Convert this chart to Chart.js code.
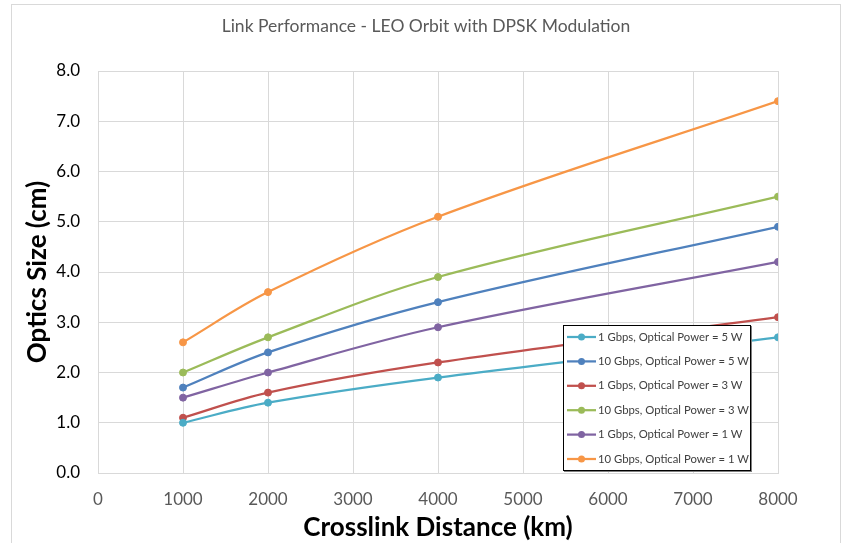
<!DOCTYPE html>
<html>
<head>
<meta charset="utf-8">
<script src="https://cdn.jsdelivr.net/npm/chart.js@4/dist/chart.umd.min.js"></script>
<style>
html,body{margin:0;padding:0;background:#fff;}
#wrap{position:relative;width:842px;height:543px;}
</style>
</head>
<body>
<div id="wrap"><canvas id="c" width="842" height="543"></canvas></div>
<script>
const chartTitle = "Link Performance - LEO Orbit with DPSK Modulation";
const xTitle = "Crosslink Distance (km)";
const yTitle = "Optics Size (cm)";
const distances = [1000, 2000, 4000, 8000];
const seriesLabels = [
  "1 Gbps, Optical Power = 5 W",
  "10 Gbps, Optical Power = 5 W",
  "1 Gbps, Optical Power = 3 W",
  "10 Gbps, Optical Power = 3 W",
  "1 Gbps, Optical Power = 1 W",
  "10 Gbps, Optical Power = 1 W"
];
const gbps1_5W  = [1.0, 1.4, 1.9, 2.7];
const gbps10_5W = [1.7, 2.4, 3.4, 4.9];
const gbps1_3W  = [1.1, 1.6, 2.2, 3.1];
const gbps10_3W = [2.0, 2.7, 3.9, 5.5];
const gbps1_1W  = [1.5, 2.0, 2.9, 4.2];
const gbps10_1W = [2.6, 3.6, 5.1, 7.4];
const seriesValues = [gbps1_5W, gbps10_5W, gbps1_3W, gbps10_3W, gbps1_1W, gbps10_1W];
const seriesColors = ["#4BACC6", "#4F81BD", "#C0504D", "#9BBB59", "#8064A2", "#F79646"];

const FONT = "Lato, 'Open Sans', sans-serif";

const datasets = seriesLabels.map((lab, i) => ({
  label: lab,
  data: distances.map((d, j) => ({x: d, y: seriesValues[i][j]})),
  borderColor: seriesColors[i],
  backgroundColor: seriesColors[i],
  pointBackgroundColor: seriesColors[i],
  pointBorderColor: seriesColors[i],
  pointRadius: 3.5,
  pointBorderWidth: 1,
  borderWidth: 2.25,
  tension: 0.35,
  fill: false
}));

const frame = {
  id: 'frame',
  beforeDraw(chart) {
    const ctx = chart.ctx;
    ctx.save();
    ctx.fillStyle = '#fff';
    ctx.fillRect(0, 0, chart.width, chart.height);
    ctx.strokeStyle = '#d9d9d9';
    ctx.lineWidth = 1;
    ctx.strokeRect(11.5, 4.5, 829, 600);
    ctx.restore();
  },
  afterLayout(chart) {
    if (chart.titleBlock) {
      chart.titleBlock.left = 11;
      chart.titleBlock.right = 841;
    }
  }
};

const boxLegend = {
  id: 'boxLegend',
  afterDraw(chart) {
    const ctx = chart.ctx;
    const x0 = 563, y0 = 325, w = 188, h = 146;
    ctx.save();
    ctx.fillStyle = '#7f7f7f';
    ctx.fillRect(x0 + 1, y0 + 1, w, h);
    ctx.fillStyle = '#fff';
    ctx.fillRect(x0, y0, w, h);
    ctx.strokeStyle = '#000';
    ctx.lineWidth = 1;
    ctx.strokeRect(x0 + 0.5, y0 + 0.5, w - 1, h - 1);
    ctx.font = "11.3px " + FONT;
    ctx.textBaseline = 'middle';
    ctx.textAlign = 'left';
    chart.data.datasets.forEach((ds, i) => {
      const y = y0 + 12 + i * 24.4;
      ctx.strokeStyle = ds.borderColor;
      ctx.lineWidth = 2.25;
      ctx.beginPath();
      ctx.moveTo(x0 + 4, y);
      ctx.lineTo(x0 + 33, y);
      ctx.stroke();
      ctx.fillStyle = ds.borderColor;
      ctx.beginPath();
      ctx.arc(x0 + 18.5, y, 3.5, 0, Math.PI * 2);
      ctx.fill();
      ctx.fillStyle = '#404040';
      ctx.fillText(ds.label, x0 + 35, y);
    });
    ctx.restore();
  }
};

new Chart(document.getElementById('c'), {
  type: 'line',
  data: { datasets },
  plugins: [frame, boxLegend],
  options: {
    responsive: false,
    animation: false,
    layout: { padding: { left: 12, right: 64, top: 0, bottom: 0 } },
    plugins: {
      legend: { display: false },
      tooltip: { enabled: false },
      title: {
        display: true,
        text: chartTitle,
        color: '#595959',
        font: { family: FONT, size: 17.5, weight: 'normal' },
        padding: { top: 16, bottom: 34 }
      }
    },
    scales: {
      x: {
        type: 'linear',
        min: 0, max: 8000,
        ticks: { stepSize: 1000, color: '#595959', font: { family: FONT, size: 17 }, padding: 16, maxRotation: 0, callback: v => String(v) },
        grid: { color: '#d9d9d9', drawTicks: false },
        border: { color: '#d9d9d9' },
        title: { display: true, text: xTitle, color: '#000', font: { family: FONT, size: 26, weight: 'bold' }, padding: { top: 2, bottom: 0 } },
        afterFit(s) { s.height = 70; }
      },
      y: {
        min: 0, max: 8,
        ticks: { stepSize: 1, color: '#000', font: { family: FONT, size: 17 }, padding: 18, callback: v => v.toFixed(1) },
        grid: { color: '#d9d9d9', drawTicks: false },
        border: { color: '#d9d9d9' },
        title: { display: true, text: yTitle, color: '#000', font: { family: FONT, size: 26, weight: 'bold' }, padding: { top: 10, bottom: 0 } },
        afterFit(s) { s.width = 86; }
      }
    }
  }
});
</script>
</body>
</html>
